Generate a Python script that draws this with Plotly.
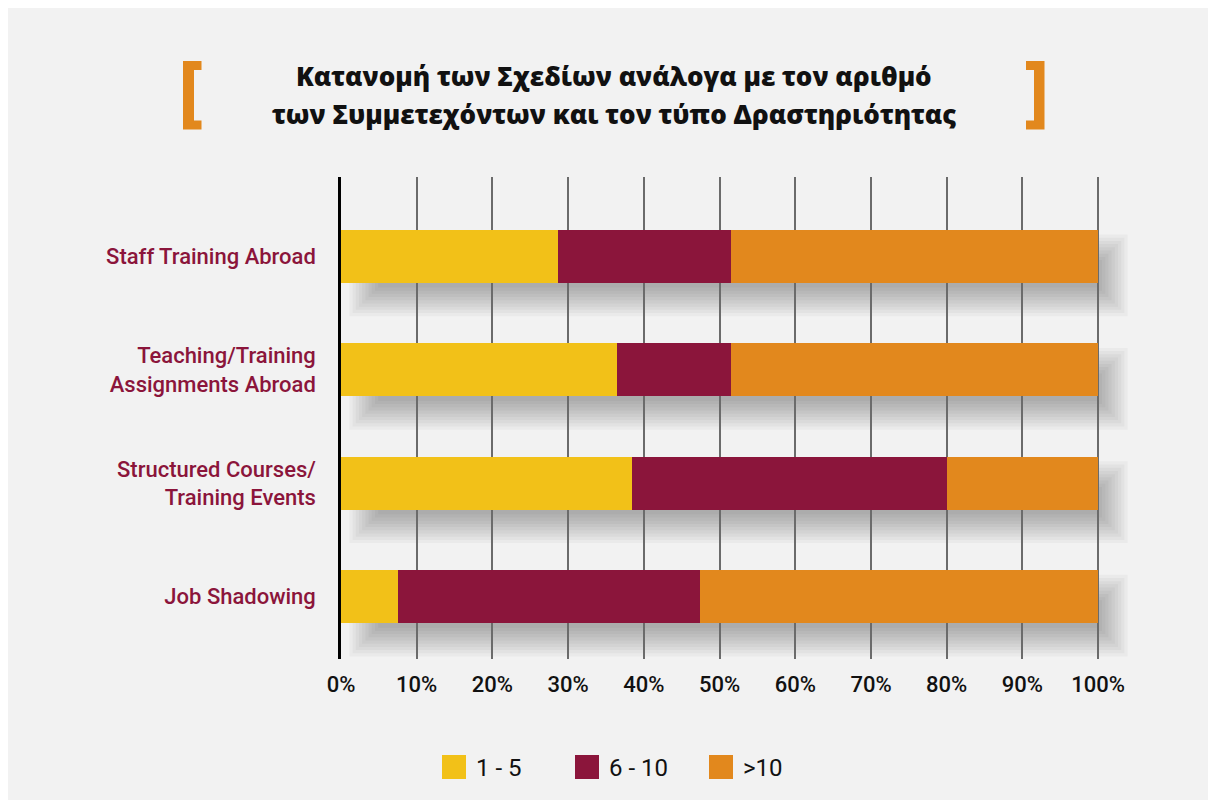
import plotly.graph_objects as go

# data, listed top to bottom
activities = [
    "Staff Training Abroad",
    "Teaching/Training<br>Assignments Abroad",
    "Structured Courses/<br>Training Events",
    "Job Shadowing",
]
groups = ["1 - 5", "6 - 10", ">10"]
share_1_5 = [28.6, 36.4, 38.4, 7.5]
share_6_10 = [22.9, 15.1, 41.6, 39.9]
share_over_10 = [48.5, 48.5, 20.0, 52.6]
colors = ["#F2C118", "#8B153B", "#E2881D"]

title_lines = [
    "Κατανομή των Σχεδίων ανάλογα με τον αριθμό",
    "των Συμμετεχόντων και τον τύπο Δραστηριότητας",
]

W, H = 1216, 800
OFF = 8  # page margin of the browser
X_MAX = 105.0  # room on the right for the bar shadows
L, T, B = 333, 169, 149
PW = round(757 * X_MAX / 100)
R = W - L - PW
PH = H - T - B
FONT = "Roboto"


# helpers: screen pixel -> paper coordinates
def px(x):
    return (x - OFF - L) / PW


def py(y):
    return (H - B - (y - OFF)) / PH


fig = go.Figure()
for name, vals, col in zip(groups, [share_1_5, share_6_10, share_over_10], colors):
    fig.add_trace(go.Bar(
        y=activities, x=vals, name=name, orientation="h",
        marker=dict(color=col, line_width=0), width=0.467, showlegend=False,
    ))

# soft drop shadow under every bar, built from stacked translucent rects
order = list(reversed(activities))
x_unit = PW / X_MAX       # pixels per percent
y_unit = PH / 4.25        # pixels per category
n_layers = 10
for act in activities:
    i = order.index(act)
    total = 100.0
    for k in range(n_layers):
        s = (k - (n_layers - 1) / 2) * 3.2
        fig.add_shape(
            type="rect", xref="x", yref="y",
            x0=3.0 + s / x_unit, x1=total + 2.0 - s / x_unit,
            y0=i - 0.2335 - 19 / y_unit + s / y_unit,
            y1=i + 0.2335 - 19 / y_unit - s / y_unit,
            fillcolor="rgba(0,0,0,0.03)", line_width=0, layer="below",
        )


# orange brackets around the title
def bracket(x_out, x_in, x_tip, y0, y1, arm):
    return (f"M {px(x_out)},{py(y0)} L {px(x_tip)},{py(y0)} L {px(x_tip)},{py(y0 + arm)} "
            f"L {px(x_in)},{py(y0 + arm)} L {px(x_in)},{py(y1 - arm)} L {px(x_tip)},{py(y1 - arm)} "
            f"L {px(x_tip)},{py(y1)} L {px(x_out)},{py(y1)} Z")


fig.add_shape(type="path", xref="paper", yref="paper", path=bracket(183, 194, 201.5, 61, 129.5, 9),
              fillcolor="#E2881D", line_width=0)
fig.add_shape(type="path", xref="paper", yref="paper", path=bracket(1044.5, 1034, 1026, 61, 129.5, 9),
              fillcolor="#E2881D", line_width=0)

for line, yy in zip(title_lines, [76, 114]):
    fig.add_annotation(text=line, xref="paper", yref="paper", x=px(614), y=py(yy),
                       showarrow=False, xanchor="center", yanchor="middle",
                       font=dict(family="Open Sans", size=26, color="#111111", weight=800))

# legend drawn by hand to get the large square swatches
leg_x = [442, 575, 709]
for name, col, x0 in zip(groups, colors, leg_x):
    fig.add_shape(type="rect", xref="paper", yref="paper", x0=px(x0), x1=px(x0 + 24),
                  y0=py(779), y1=py(755), fillcolor=col, line_width=0)
    fig.add_annotation(text=name, xref="paper", yref="paper", x=px(x0 + 32), y=py(767.5),
                       showarrow=False, xanchor="left", yanchor="middle",
                       font=dict(family=FONT, size=24, color="#111111"))

fig.update_layout(
    barmode="stack",
    width=W, height=H,
    margin=dict(l=L, r=R, t=T, b=B, autoexpand=False),
    paper_bgcolor="#f2f2f2", plot_bgcolor="rgba(0,0,0,0)",
    font=dict(family=FONT),
    showlegend=False,
    xaxis=dict(
        range=[0, X_MAX], tickmode="array", tickvals=list(range(0, 101, 10)),
        ticktext=[f"{v}%" for v in range(0, 101, 10)],
        showgrid=True, gridcolor="#6b6b6b", gridwidth=2, zeroline=False, showline=False,
        ticks="", ticklabelstandoff=10,
        tickfont=dict(family=FONT, size=22, color="#111111", weight=500),
    ),
    yaxis=dict(
        categoryorder="array", categoryarray=order, range=[-0.55, 3.70],
        showgrid=False, zeroline=False, showline=True, linecolor="#000000", linewidth=2.5,
        ticks="", ticklabelstandoff=18,
        tickfont=dict(family=FONT, size=22, color="#8B153B", weight=500),
    ),
)

fig.write_html("out.html")
